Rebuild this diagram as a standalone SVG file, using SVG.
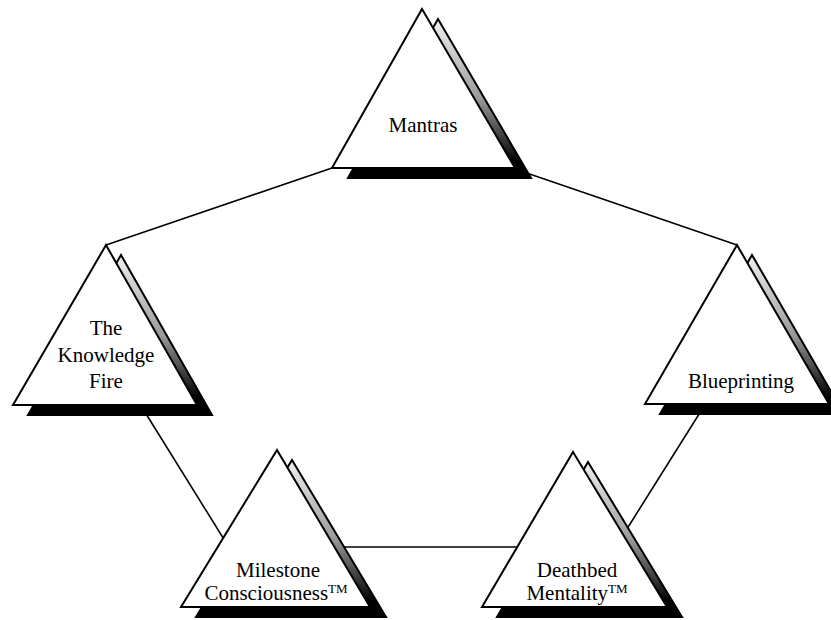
<svg xmlns="http://www.w3.org/2000/svg" width="831" height="620" viewBox="0 0 831 620">
<style>
.edge{stroke:#000;stroke-width:1.6;fill:none}
.shadow{fill:url(#shade);stroke:#000;stroke-width:2;stroke-linejoin:miter}
.tri{fill:#fff;stroke:#000;stroke-width:2;stroke-linejoin:miter}
.lbl{font-family:"Liberation Serif","Times New Roman",serif;font-size:21px;fill:#000;text-anchor:middle}
.tm{font-size:13px}
</style>
<defs>
<linearGradient id="shade" x1="0" y1="0" x2="0" y2="1">
<stop offset="0" stop-color="#f0f0f0"/>
<stop offset="0.5" stop-color="#9a9a9a"/>
<stop offset="0.9" stop-color="#000"/>
<stop offset="1" stop-color="#000"/>
</linearGradient>
</defs>
<rect width="831" height="620" fill="#fff"/>
<g id="connectors">
<line class="edge" x1="332" y1="168" x2="106" y2="245"/>
<line class="edge" x1="515" y1="169" x2="737" y2="245"/>
<line class="edge" x1="143" y1="409" x2="230" y2="549"/>
<line class="edge" x1="340" y1="547" x2="520" y2="547"/>
<line class="edge" x1="701" y1="411" x2="620" y2="540"/>
</g>
<g id="node-mantras">
<polygon class="shadow" points="438,19 531,178 348,178"/>
<polygon class="tri" points="422,9 515,168 332,168"/>
<text class="lbl" x="423" y="132">Mantras</text>
</g>
<g id="node-knowledge-fire">
<polygon class="shadow" points="121,255 212,415 28,415"/>
<polygon class="tri" points="106,245 197,405 13,405"/>
<text class="lbl" x="106" y="335">The</text>
<text class="lbl" x="106" y="362">Knowledge</text>
<text class="lbl" x="106" y="388">Fire</text>
</g>
<g id="node-blueprinting">
<polygon class="shadow" points="752,255 844,414 660,414"/>
<polygon class="tri" points="737,245 829,404 645,404"/>
<text class="lbl" x="741" y="388">Blueprinting</text>
</g>
<g id="node-milestone">
<polygon class="shadow" points="292,460 386,617 196,617"/>
<polygon class="tri" points="277,450 370,607 181,607"/>
<text class="lbl" x="278" y="577">Milestone</text>
<text class="lbl" x="276" y="600">Consciousness<tspan class="tm" dy="-7">TM</tspan></text>
</g>
<g id="node-deathbed">
<polygon class="shadow" points="588,462 682,617 497,617"/>
<polygon class="tri" points="573,452 667,607 482,607"/>
<text class="lbl" x="577" y="577">Deathbed</text>
<text class="lbl" x="577" y="600">Mentality<tspan class="tm" dy="-7">TM</tspan></text>
</g>
</svg>
